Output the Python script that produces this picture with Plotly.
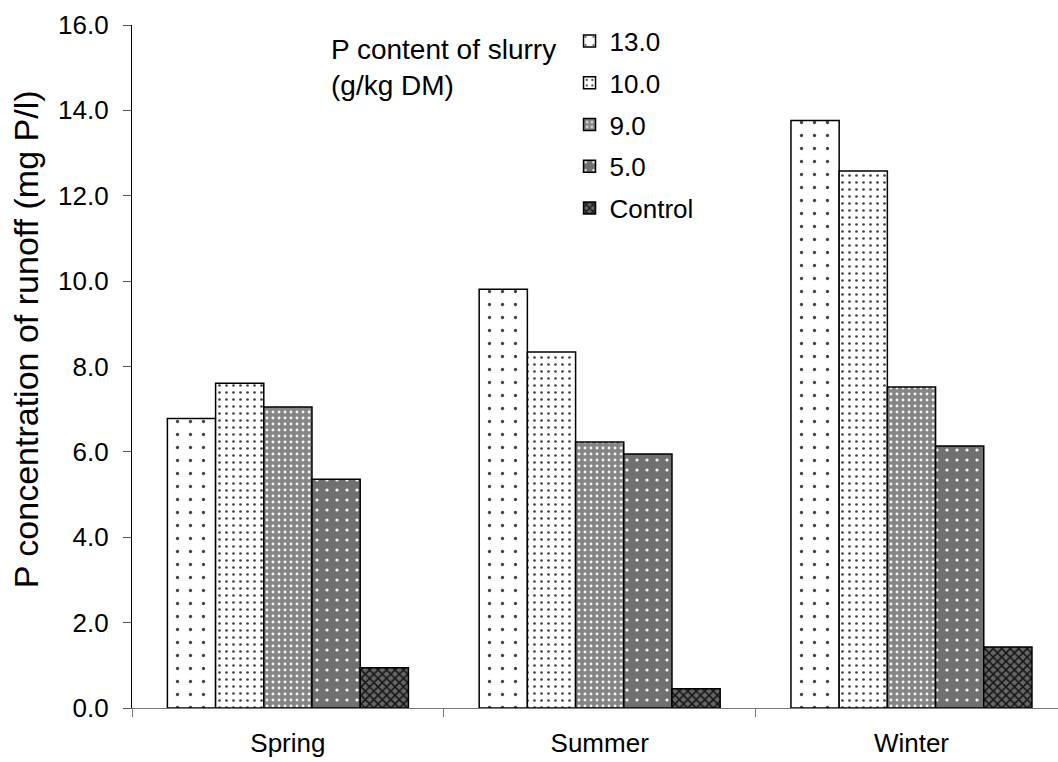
import plotly.graph_objects as go

seasons = ["Spring", "Summer", "Winter"]
series_names = ["13.0", "10.0", "9.0", "5.0", "Control"]
v_13 = [6.78, 9.81, 13.76]
v_10 = [7.61, 8.34, 12.58]
v_9 = [7.05, 6.23, 7.52]
v_5 = [5.36, 5.95, 6.14]
v_ctrl = [0.94, 0.45, 1.43]
values = [v_13, v_10, v_9, v_5, v_ctrl]

patterns = [
    dict(shape=".", bgcolor="white", fgcolor="#444", size=13, solidity=0.05, fillmode="replace"),
    dict(shape=".", bgcolor="white", fgcolor="#444", size=7, solidity=0.12, fillmode="replace"),
    dict(shape=".", bgcolor="#858585", fgcolor="#f4f4f4", size=6, solidity=0.18, fillmode="replace"),
    dict(shape=".", bgcolor="#707070", fgcolor="#f4f4f4", size=10, solidity=0.08, fillmode="replace"),
    dict(shape="x", bgcolor="#666666", fgcolor="#151515", size=6, solidity=0.45, fillmode="replace"),
]

fig = go.Figure()
for i, (name, vals, pat) in enumerate(zip(series_names, values, patterns)):
    fig.add_trace(go.Bar(
        x=seasons, y=vals, name=name, legendgroup=f"g{i}",
        marker=dict(color="white", line=dict(color="black", width=1.5), pattern=pat),
    ))

font = "Liberation Sans, Arial, sans-serif"
fig.update_layout(
    width=1058, height=762,
    margin=dict(l=132, r=0, t=25, b=54),
    paper_bgcolor="white", plot_bgcolor="white",
    barmode="group", bargap=0.227, bargroupgap=0,
    font=dict(family=font, size=26, color="black"),
    showlegend=True,
    legend=dict(x=0.4725, y=1.011, xanchor="left", yanchor="top",
                font=dict(family=font, size=26), tracegroupgap=5,
                bgcolor="rgba(0,0,0,0)", itemwidth=30),
    annotations=[
        dict(text="P content of slurry<br>(g/kg DM)", xref="paper", yref="paper",
             x=0.2125, y=0.99, xanchor="left", yanchor="top", showarrow=False,
             align="left", font=dict(family=font, size=28)),
        dict(text="P concentration of runoff (mg P/l)", xref="paper", yref="paper",
             x=-0.1145, y=0.540, xanchor="center", yanchor="middle", textangle=-90,
             showarrow=False, font=dict(family=font, size=34)),
    ],
)
fig.update_xaxes(range=[-0.5, 2.47], showline=True, linecolor="#777", linewidth=1.2,
                 ticks="outside", tickson="boundaries", ticklen=8, tickcolor="#777",
                 ticklabelstandoff=12, tickfont=dict(size=26), showgrid=False)
fig.update_yaxes(range=[0, 16], dtick=2, tickformat=".1f", showline=True, linecolor="black",
                 linewidth=1.2, ticks="outside", ticklen=8, tickcolor="#555", showgrid=False,
                 zeroline=False, ticklabelstandoff=9, tickfont=dict(size=26))

fig.write_html("out.html")
